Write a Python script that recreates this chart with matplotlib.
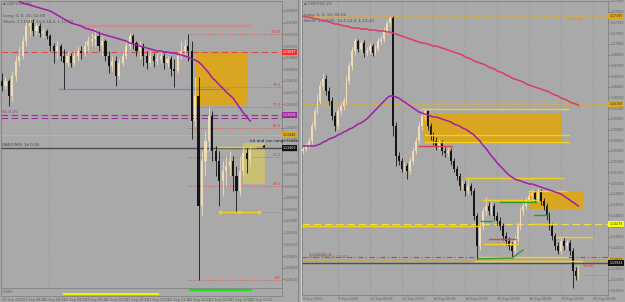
import numpy as np
import matplotlib
matplotlib.use("Agg")
import matplotlib.pyplot as plt
from matplotlib.patches import Rectangle
from matplotlib.lines import Line2D
from matplotlib.ticker import MultipleLocator, FormatStrFormatter
import matplotlib.transforms as mtransforms

# =====================================================
# Data - left chart (GBPUSD M5), points above 1.13000
# =====================================================
L_BASE = 1.13000
l_open0 = 610
l_close = [595, 610, 565, 625, 670, 685, 730, 775, 784, 760,
           775, 754, 760, 745, 715, 700, 715, 685, 664, 685,
           664, 685, 700, 694, 715, 730, 736, 745, 715, 730,
           685, 655, 670, 625, 664, 685, 715, 745, 724, 700,
           715, 685, 664, 685, 670, 676, 685, 664, 676, 646,
           640, 685, 700, 715, 700, 490, 565, 235, 370, 430,
           505, 400, 370, 310, 340, 355, 370, 325, 280, 340, 394, 376, 400]
l_high = [634, 625, 616, 640, 685, 715, 745, 796, 799, 796,
          784, 784, 769, 766, 751, 724, 730, 721, 706, 700,
          694, 700, 715, 715, 730, 745, 754, 769, 760, 745,
          736, 700, 685, 685, 676, 700, 730, 754, 751, 730,
          730, 724, 700, 700, 694, 694, 700, 694, 685, 685,
          676, 700, 730, 736, 751, 730, 622, 622, 400, 460,
          535, 520, 415, 400, 370, 385, 400, 385, 355, 385, 415, 412, 415]
l_low = [580, 586, 535, 550, 610, 655, 676, 715, 745, 745,
         748, 742, 739, 736, 700, 664, 676, 670, 586, 655,
         652, 655, 670, 676, 685, 700, 715, 715, 700, 685,
         670, 634, 640, 595, 616, 655, 676, 706, 706, 685,
         676, 655, 646, 655, 652, 658, 664, 646, 652, 625,
         592, 634, 676, 685, 670, 436, 475, 13, 205, 325,
         400, 370, 325, 235, 265, 295, 325, 280, 220, 265, 325, 334, 355]
l_ma = [874, 868, 862, 856, 853, 850, 844, 841, 838, 835,
        832, 829, 826, 823, 820, 814, 808, 802, 796, 790,
        784, 781, 778, 775, 769, 766, 763, 760, 754, 751,
        748, 745, 742, 739, 736, 733, 730, 724, 721, 718,
        715, 712, 709, 706, 703, 700, 700, 697, 697, 694,
        694, 691, 688, 685, 682, 676, 673, 667, 658, 646,
        634, 619, 610, 598, 589, 577, 568, 559, 544, 529, 514, 502, 490]

l_resist = 775          # pink line
l_resist_span = (22.9, 71.9)
l_support = 586         # blue line
l_support_span = (16.5, 65.8)
l_zone = (56.2, 71.3, 535, 700)      # orange zone: bar from/to, low/high
l_range_box = (69.9, 76.2, 301, 424)  # hit-and-run box
l_range_top = 412
l_range_top_span = (62.6, 73.3)
l_range_low = 217
l_range_low_marks = [63.2, 68.7, 74.5]
l_red_level = 697
l_purple_levels = [508, 499]
l_gold_level = 448
l_daily_level = 409
l_fib_low, l_fib_high, l_fib_start = 13, 751, 54
fib_ratios = [0.0, 0.382, 0.5, 0.618, 0.705, 0.786, 1.0]
l_vline = 13.6
l_sessions_yellow = (18.0, 45.2)
l_sessions_green = (54.5, 72.2)
l_time_labels = ["20 Sep 2022", "21 Sep 08:05", "21 Sep 08:35", "21 Sep 09:05",
                 "21 Sep 09:35", "21 Sep 10:05", "21 Sep 10:35", "21 Sep 11:05",
                 "21 Sep 11:35", "21 Sep 12:05", "21 Sep 12:35", "21 Sep 13:05",
                 "21 Sep 13:35"]

# =====================================================
# Data - right chart (GBPUSD H1), points above 1.13600
# =====================================================
R_BASE = 1.13600
r_open0 = 1900
r_close = [1928, 1970, 2040, 2250, 2460, 2600, 2810, 2908, 2740, 2600,
           2390, 2250, 2460, 2530, 2600, 2880, 3090, 3300, 3440, 3328,
           3412, 3272, 3300, 3370, 3272, 3328, 3440, 3468, 3580, 3692,
           3762, 2250, 1830, 1760, 1648, 1690, 1620, 1760, 1900, 2040,
           2250, 2390, 2460, 2250, 2110, 2040, 1970, 2012, 1900, 1872,
           1900, 1760, 1648, 1550, 1410, 1438, 1340, 1410, 1340, 990,
           570, 850, 1060, 1130, 1060, 1130, 990, 920, 850, 710,
           640, 570, 500, 668, 850, 1060, 1130, 1200, 1270, 1312,
           1228, 1340, 1200, 1130, 990, 850, 710, 570, 500, 640,
           570, 612, 500, 220, 150, 248]
r_high = [1980, 2010, 2090, 2300, 2520, 2700, 2880, 2992, 2960, 2800,
          2650, 2440, 2520, 2590, 2660, 2950, 3150, 3360, 3482, 3470,
          3460, 3450, 3350, 3420, 3400, 3380, 3490, 3520, 3630, 3740,
          3804, 3790, 2300, 1880, 1800, 1740, 1730, 1810, 1950, 2100,
          2300, 2440, 2488, 2480, 2290, 2160, 2090, 2070, 2060, 1950,
          1960, 1940, 1800, 1690, 1590, 1490, 1480, 1508, 1450, 1380,
          1030, 900, 1110, 1256, 1180, 1180, 1170, 1040, 970, 890,
          760, 690, 620, 720, 900, 1110, 1180, 1250, 1320, 1368,
          1350, 1382, 1370, 1240, 1170, 1040, 890, 750, 620, 690,
          690, 660, 650, 540, 270, 300]
r_low = [1860, 1890, 1940, 2000, 2200, 2420, 2560, 2750, 2680, 2540,
         2330, 2180, 2210, 2400, 2480, 2560, 2840, 3040, 3250, 3280,
         3290, 3220, 3230, 3260, 3230, 3240, 3300, 3400, 3430, 3540,
         3650, 2110, 1690, 1700, 1600, 1600, 1508, 1580, 1720, 1860,
         2000, 2200, 2340, 2200, 2060, 1990, 1920, 1930, 1850, 1820,
         1830, 1710, 1600, 1500, 1360, 1370, 1270, 1300, 1290, 940,
         388, 520, 800, 1010, 1010, 1010, 940, 870, 800, 660,
         590, 520, 402, 460, 620, 800, 1010, 1090, 1160, 1220,
         1180, 1190, 1150, 1080, 940, 800, 660, 520, 458, 460,
         520, 530, 450, -18, 100, 110]
r_ma_slow = [3790, 3776, 3776, 3762, 3748, 3748, 3734, 3720, 3720, 3706,
             3692, 3678, 3678, 3664, 3650, 3650, 3636, 3622, 3622, 3622,
             3608, 3608, 3608, 3594, 3594, 3594, 3580, 3580, 3580, 3566,
             3566, 3552, 3538, 3524, 3510, 3496, 3482, 3468, 3454, 3440,
             3426, 3412, 3412, 3398, 3384, 3370, 3370, 3356, 3342, 3328,
             3314, 3300, 3286, 3272, 3258, 3244, 3216, 3202, 3188, 3160,
             3146, 3132, 3118, 3104, 3076, 3062, 3048, 3020, 3006, 2992,
             2964, 2950, 2922, 2908, 2894, 2880, 2866, 2838, 2824, 2810,
             2796, 2782, 2768, 2754, 2740, 2726, 2698, 2684, 2670, 2642,
             2628, 2614, 2586, 2572, 2558, 2544]
r_ma_fast = [1970, 1970, 1970, 1970, 1970, 1984, 1998, 2026, 2040, 2068,
             2082, 2096, 2124, 2138, 2166, 2180, 2208, 2222, 2250, 2278,
             2292, 2320, 2348, 2390, 2432, 2474, 2516, 2558, 2600, 2642,
             2670, 2670, 2656, 2642, 2614, 2586, 2558, 2530, 2502, 2474,
             2446, 2432, 2418, 2404, 2390, 2376, 2376, 2362, 2348, 2334,
             2320, 2306, 2278, 2264, 2250, 2222, 2208, 2180, 2152, 2124,
             2082, 2040, 1984, 1942, 1886, 1830, 1788, 1732, 1690, 1648,
             1606, 1564, 1536, 1508, 1494, 1480, 1466, 1452, 1438, 1438,
             1424, 1410, 1396, 1382, 1368, 1354, 1340, 1326, 1312, 1298,
             1270, 1242, 1214, 1186, 1158, 1130]

r_zones = [(41.7, 89.3, 2026, 2432), (78.3, 96.6, 1088, 1340)]
r_yellow = [2488, 2124, 2026, 1522, 1214, 1340, 878, 598, 696, 416, 360, 850]
r_yellow_from = [40.7, 42.1, 42.1, 56.2, 62.1, 77.9, 79.7, 62.4, 87.2, 61.0, 59.3, -0.4]
r_yellow_to = [91.4, 91.7, 91.7, 89.7, 80.7, 90.7, 85.9, 74.1, 99.7, 91.0, 96.2, 61.0]
r_green = [1186, 920, 1004]
r_green_from = [67.9, 61.4, 79.7]
r_green_to = [80.3, 65.2, 84.5]
r_red = [1970, 668]
r_red_from = [40.0, 64.1]
r_red_to = [51.4, 73.1]
r_trend_x = [60.3, 72.1, 75.9]
r_trend_y = [390, 402, 514]
r_r1_high = 3790
r_s1_low = 2558
r_yellow_level = 878
r_pivot = 416
r_gold_level = 374
r_daily_level = 332
r_grid = [12, 23, 34, 45, 56, 67, 78, 89, 100]
r_time_pos = [0, 12, 23, 34, 45, 56, 67, 78, 89, 100]
r_time_labels = ["8 Sep 2022", "9 Sep 14:00", "12 Sep 06:00", "12 Sep 22:00",
                 "14 Sep 06:00", "14 Sep 22:00", "15 Sep 14:00", "16 Sep 08:00",
                 "19 Sep 14:00", "20 Sep 06:00"]

BG = "#a9a9a9"
BULL = "#f2dab2"
BEAR = "#151515"
AXC = "#5c5c5c"


def lp(pts):
    return L_BASE + np.asarray(pts, dtype=float) * 1e-5


def rp(pts):
    return R_BASE + np.asarray(pts, dtype=float) * 1e-5


def candles(ax, conv, open0, close, high, low):
    c = conv(close)
    o = np.concatenate([[conv(open0)], c[:-1]])
    h = np.maximum(conv(high), np.maximum(o, c))
    lo = np.minimum(conv(low), np.minimum(o, c))
    x = np.arange(len(c))
    col = np.where(c >= o, BULL, BEAR)
    ax.vlines(x, lo, h, colors=col, linewidth=0.6, zorder=3)
    body = c - o
    body = np.where(np.abs(body) < 2e-6, 2e-6, body)
    ax.bar(x, body, bottom=o, width=0.62, color=col, linewidth=0, zorder=4)


def price_box(ax, y, fc, tc):
    tr = mtransforms.blended_transform_factory(ax.transAxes, ax.transData)
    ax.text(1.004, y, "%.5f" % y, transform=tr, fontsize=2.3, color=tc,
            va="center", ha="left", clip_on=False, zorder=10,
            bbox=dict(boxstyle="square,pad=0.25", fc=fc, ec="none"))


def style_axes(ax):
    ax.set_facecolor(BG)
    for s in ax.spines.values():
        s.set_color("#7a7a7a")
        s.set_linewidth(0.5)


fig = plt.figure(figsize=(6.25, 3.02), dpi=100, facecolor=BG)

# =====================================================
# Left chart
# =====================================================
axL = fig.add_axes([1 / 625, 14 / 302, 281 / 625, 287 / 302])
axS = fig.add_axes([1 / 625, 6 / 302, 281 / 625, 8 / 302])
style_axes(axL)
style_axes(axS)

lx0, lx1 = -0.29, 81.2
axL.set_xlim(lx0, lx1)
axL.set_ylim(lp(-11), lp(850))

axL.axvline(l_vline, color="#8a8a8a", lw=0.6, ls=(0, (1, 2)), zorder=1)

z0, z1, zl, zh = l_zone
axL.add_patch(Rectangle((z0, lp(zl)), z1 - z0, lp(zh) - lp(zl),
                        fc="#daa520", ec="none", zorder=1))
b0, b1, bl, bh = l_range_box
axL.add_patch(Rectangle((b0, lp(bl)), b1 - b0, lp(bh) - lp(bl),
                        fc="#cdc270", ec="none", alpha=0.9, zorder=1))

axL.plot(l_resist_span, [lp(l_resist)] * 2, color="#d48a8a", lw=1.6, zorder=2)
axL.plot(l_support_span, [lp(l_support)] * 2, color="#5b8fe0", lw=0.9, zorder=2)
axL.plot(l_range_top_span, [lp(l_range_top)] * 2, color="#f0d020", lw=1.0, zorder=5)

axL.axhline(lp(l_red_level), color="#e04848", lw=0.8, dashes=(6, 3), zorder=2)
for lv in l_purple_levels:
    axL.axhline(lp(lv), color="#a02ca0", lw=0.8, dashes=(6, 3), zorder=2)
axL.axhline(lp(l_gold_level), color="#d8b440", lw=0.8, zorder=2)
axL.axhline(lp(l_daily_level), color="#505050", lw=1.0, zorder=2)

for r in fib_ratios:
    fy = lp(l_fib_low + r * (l_fib_high - l_fib_low))
    axL.plot([l_fib_start, lx1], [fy, fy], color="#d86060", lw=0.7,
             ls=(0, (1, 1.5)), zorder=2)
    axL.text(lx1 - 0.4, fy, "%.1f" % (r * 100), fontsize=2.5, color="#d83838",
             ha="right", va="bottom", zorder=6)

candles(axL, lp, l_open0, l_close, l_high, l_low)
axL.plot(np.arange(len(l_ma)), lp(l_ma), color="#a41ca8", lw=1.1, zorder=6)

axL.plot(l_range_low_marks, [lp(l_range_low)] * 3, color="#f0d020", lw=0.9,
         marker="s", ms=1.6, zorder=6)
axL.plot([l_range_low_marks[-1], lx1], [lp(l_range_low)] * 2, color="#8a8a8a",
         lw=0.6, ls=(0, (1, 1.5)), zorder=2)

axL.text(71.9, lp(430), "hit and run range trade", fontsize=3.0, color="#202020",
         ha="left", va="center", clip_on=False, zorder=8)
axL.annotate("", xy=(76.9, lp(424)), xytext=(75.4, lp(407)),
             arrowprops=dict(arrowstyle="-|>", color="#101010", lw=0.6,
                             mutation_scale=3), zorder=8)

axL.text(0.008, 0.995, "\u25aa GBPUSD,M5", transform=axL.transAxes, fontsize=3,
         color="#606060", va="top")
axL.text(0.008, 0.955, "Long: 0, 0, 10, 02:00", transform=axL.transAxes,
         fontsize=3, color="#505050", va="top")
axL.text(0.008, 0.935, "Short: 1.13545, 13.4-14.4, 1-13:40",
         transform=axL.transAxes, fontsize=3, color="#505050", va="top")
axL.text(0.008, lp(511), "S1 0.25", fontsize=3, color="#a02ca0", va="bottom")
axL.text(0.008, lp(411), "DAILY(M5) 1d 0.00", fontsize=3, color="#404040",
         va="bottom")

axL.yaxis.tick_right()
axL.yaxis.set_major_locator(MultipleLocator(0.00035))
axL.yaxis.set_major_formatter(FormatStrFormatter("%.5f"))
axL.tick_params(axis="y", labelsize=2.3, colors=AXC, length=1.2, width=0.4, pad=0.8)
axL.set_xticks([])

price_box(axL, lp(l_red_level), "#ff2a2a", "white")
price_box(axL, lp(l_purple_levels[0]), "#9c289c", "white")
price_box(axL, lp(l_gold_level), "#d8a820", "#303030")
price_box(axL, lp(l_daily_level), "#101010", "white")

# indicator strip with session bars and time axis
axS.set_xlim(lx0, lx1)
axS.set_ylim(0, 1)
axS.set_yticks([])
axS.plot(l_sessions_yellow, [0.3, 0.3], color="#f5f000", lw=1.5)
axS.plot(l_sessions_green, [0.75, 0.75], color="#18e018", lw=1.5)
axS.text(0.008, 0.5, "0.000", transform=axS.transAxes, fontsize=2.6,
         color="#606060", va="center")
axS.set_xticks(np.arange(0, 6 * len(l_time_labels), 6))
axS.set_xticklabels(l_time_labels, fontsize=2.4, color=AXC, ha="left")
axS.tick_params(axis="x", length=0, pad=1.2)

# =====================================================
# Right chart
# =====================================================
axR = fig.add_axes([302 / 625, 7 / 302, 306 / 625, 294 / 302])
style_axes(axR)
rx0, rx1 = -0.34, 105.2
axR.set_xlim(rx0, rx1)
axR.set_ylim(rp(-116), rp(4000))

for g in r_grid:
    axR.axvline(g, color="#8c8c8c", lw=0.6, ls=(0, (1, 2)), zorder=1)

for (a, b, lo, hi) in r_zones:
    axR.add_patch(Rectangle((a, rp(lo)), b - a, rp(hi) - rp(lo),
                            fc="#daa520", ec="none", zorder=1))

axR.axhline(rp(r_r1_high), color="#d8aa48", lw=0.8, dashes=(6, 3), zorder=2)
axR.axhline(rp(r_s1_low), color="#d8aa48", lw=0.8, dashes=(6, 3), zorder=2)
axR.axhline(rp(r_yellow_level), color="#f0e040", lw=0.9, dashes=(6, 3), zorder=2)
axR.axhline(rp(r_pivot), color="#b040b0", lw=0.8, ls=(0, (5, 2, 1, 2)), zorder=2)
axR.axhline(rp(r_gold_level), color="#c8a840", lw=0.8, dashes=(6, 3), zorder=2)
axR.axhline(rp(r_daily_level), color="#505050", lw=1.0, zorder=2)

for y, a, b in zip(r_yellow, r_yellow_from, r_yellow_to):
    axR.plot([a, b], [rp(y)] * 2, color="#f2d21e", lw=1.0, zorder=5)
for y, a, b in zip(r_green, r_green_from, r_green_to):
    axR.plot([a, b], [rp(y)] * 2, color="#2e9a2e", lw=1.0, zorder=5)
for y, a, b in zip(r_red, r_red_from, r_red_to):
    axR.plot([a, b], [rp(y)] * 2, color="#e04040", lw=1.0, zorder=5)
axR.plot(r_trend_x, rp(r_trend_y), color="#2e9a2e", lw=0.9, zorder=5)

candles(axR, rp, r_open0, r_close, r_high, r_low)
axR.plot(np.arange(len(r_ma_slow)), rp(r_ma_slow), color="#dc3c64", lw=1.1, zorder=6)
axR.plot(np.arange(len(r_ma_fast)), rp(r_ma_fast), color="#a41ca8", lw=1.1, zorder=6)

axR.text(91.4, rp(r_r1_high - 20), "R1 High", fontsize=3, color="#c89830",
         va="top", ha="left")
axR.text(91.0, rp(r_s1_low - 20), "S1 Low", fontsize=3, color="#c89830",
         va="top", ha="left")
axR.text(96.6, rp(290), "-30.80", fontsize=2.6, color="#e03030", va="center")
axR.plot([97.2, rx1], [rp(164)] * 2, color="#808080", lw=0.6, ls=(0, (1, 1.5)))

axR.text(0.008, 0.995, "\u25aa GBPUSD,H1", transform=axR.transAxes, fontsize=3,
         color="#606060", va="top")
axR.text(0.008, 0.958, "Long: 0, 0, 10, 02:00", transform=axR.transAxes,
         fontsize=3, color="#505050", va="top")
axR.text(0.008, 0.938, "Short: 1.13545, 13.4-14.4, 1-13:40",
         transform=axR.transAxes, fontsize=3, color="#505050", va="top")
axR.text(2.0, rp(r_pivot + 15), "1.135000_A", fontsize=2.8, color="#8a3a8a",
         va="bottom")
axR.text(2.0, rp(r_gold_level + 8), "PIVOT(H1)  pt 13:00", fontsize=2.8,
         color="#8a7030", va="bottom")

axR.yaxis.tick_right()
axR.yaxis.set_major_locator(MultipleLocator(0.0015))
axR.yaxis.set_major_formatter(FormatStrFormatter("%.5f"))
axR.tick_params(axis="y", labelsize=2.3, colors=AXC, length=1.2, width=0.4, pad=0.8)
axR.set_xticks(r_time_pos)
axR.set_xticklabels(r_time_labels, fontsize=2.4, color=AXC, ha="left")
axR.tick_params(axis="x", length=0, pad=1.2)

price_box(axR, rp(r_r1_high), "#d8a820", "#303030")
price_box(axR, rp(r_s1_low), "#d8a820", "#303030")
price_box(axR, rp(r_yellow_level), "#ffff10", "#303030")
price_box(axR, rp(r_gold_level), "#d8a820", "#303030")
price_box(axR, rp(r_daily_level), "#101010", "white")

# panel separators
fig.add_artist(Line2D([297.5 / 625] * 2, [0, 1], color="#7a7a7a", lw=0.6))
fig.add_artist(Line2D([300.5 / 625] * 2, [0, 1], color="#d4d4dc", lw=0.6))

fig.savefig("out.png", dpi=100, facecolor=BG)
plt.close(fig)
